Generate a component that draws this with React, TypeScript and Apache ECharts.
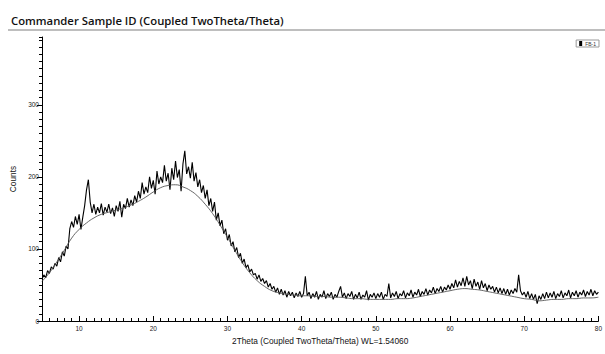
import React, { useEffect, useRef } from "react";
import * as echarts from "echarts";

const titleText = "Commander Sample ID (Coupled TwoTheta/Theta)";
const xAxisName = "2Theta (Coupled TwoTheta/Theta) WL=1.54060";
const yAxisName = "Counts";
const legendName = "FB-1";

const angleStart = 5;
const angleStep = 0.25;
// measured counts, 5.00° .. 80.00° every 0.25°
const counts = [
  58, 64, 60, 70, 66, 75, 72, 80, 76, 88, 82, 96, 90, 104, 100, 128, 138, 130, 145, 134,
  148, 127, 144, 160, 182, 196, 165, 150, 162, 148, 158, 150, 163, 147, 158, 151, 162, 149, 157, 145,
  160, 152, 166, 144, 162, 156, 170, 158, 168, 160, 174, 165, 180, 170, 192, 176, 186, 178, 200, 184,
  195, 176, 208, 190, 200, 192, 216, 194, 205, 182, 212, 196, 222, 199, 210, 180, 218, 236, 204, 214,
  198, 220, 194, 206, 186, 196, 178, 188, 170, 182, 160, 170, 152, 165, 140, 150, 132, 140, 121, 128,
  112, 120, 104, 110, 96, 102, 88, 94, 80, 86, 74, 78, 68, 72, 64, 66, 58, 64, 55, 59,
  52, 56, 47, 52, 44, 48, 40, 46, 37, 44, 36, 42, 33, 41, 35, 40, 32, 39, 34, 41,
  33, 38, 62, 35, 40, 31, 38, 33, 41, 30, 37, 33, 42, 31, 38, 34, 40, 30, 37, 33,
  41, 48, 33, 39, 31, 38, 34, 41, 30, 37, 32, 40, 30, 36, 33, 42, 29, 37, 33, 39,
  31, 38, 33, 40, 30, 37, 34, 52, 32, 39, 34, 41, 31, 38, 35, 42, 32, 39, 35, 43,
  33, 40, 36, 44, 34, 41, 37, 45, 36, 43, 39, 47, 38, 45, 41, 48, 40, 47, 43, 50,
  44, 52, 46, 57, 47, 55, 49, 60, 48, 62, 50, 56, 45, 58, 48, 54, 44, 56, 46, 52,
  42, 50, 44, 48, 40, 47, 39, 46, 38, 45, 37, 44, 36, 43, 38, 45, 40, 64, 42, 36,
  40, 33, 41, 31, 38, 30, 37, 24, 35, 30, 38, 31, 40, 32, 39, 33, 41, 31, 38, 34,
  42, 32, 39, 35, 43, 32, 40, 35, 42, 33, 40, 36, 43, 34, 41, 36, 44, 35, 42, 37,
  40,
];

const fitStart = 5;
const fitStep = 1;
// fitted background curve, 5° .. 80° every 1°
const fitCounts = [
  55, 67, 82, 98, 115, 127, 136, 143, 148, 151,
  154, 157, 161, 166, 172, 179, 185, 188, 189, 186,
  181, 173, 162, 149, 133, 116, 98, 81, 67, 56,
  48, 42, 39, 37, 36, 35, 35, 34, 34, 33,
  33, 32, 31, 31, 30, 30, 30, 30, 31, 31,
  32, 34, 36, 38, 40, 42, 44, 45, 44, 43,
  41, 39, 37, 35, 33, 31, 30, 28, 29, 30,
  30, 31, 31, 32, 32, 33,
];

const xLabelValues = [10, 20, 30, 40, 50, 60, 70, 80];
const yLabelValues = [0, 100, 200, 300];

export default function App() {
  const ref = useRef<HTMLDivElement>(null);
  useEffect(() => {
    if (!ref.current) return;
    const chart = echarts.init(ref.current, undefined, { renderer: "svg" });
    const measured = counts.map((c, i) => [angleStart + i * angleStep, c]);
    const fit = fitCounts.map((c, i) => [fitStart + i * fitStep, c]);
    const font = "'Liberation Sans', Arial, sans-serif";
    chart.setOption({
      animation: false,
      textStyle: { fontFamily: font },
      title: {
        text: titleText,
        left: 6,
        top: 10,
        textStyle: { fontFamily: "'Open Sans', sans-serif", fontSize: 11.3, fontWeight: 600, color: "#111" },
      },
      graphic: [
        { type: "line", shape: { x1: 8, y1: 30, x2: 605, y2: 30 }, style: { stroke: "#a8a8a8", lineWidth: 1.5 } },
      ],
      legend: {
        data: [{ name: legendName, icon: "rect" }],
        right: 6,
        top: 40,
        itemWidth: 3,
        itemHeight: 5,
        itemGap: 2,
        padding: [1, 3],
        borderColor: "#999",
        borderWidth: 1,
        textStyle: { fontSize: 5, color: "#333", fontFamily: font, padding: [0, 0, 0, -2] },
      },
      grid: { left: 42, right: 2, top: 37, bottom: 33 },
      xAxis: [
        {
          type: "value",
          min: 5,
          max: 80,
          interval: 1,
          position: "bottom",
          axisLine: { lineStyle: { color: "#000", width: 1 } },
          axisTick: { inside: true, length: 3, lineStyle: { color: "#000" } },
          axisLabel: { show: false },
          splitLine: { show: false },
        },
        {
          type: "value",
          min: 5,
          max: 80,
          position: "bottom",
          axisLine: { show: false },
          axisTick: { inside: true, length: 5, customValues: xLabelValues, lineStyle: { color: "#000" } },
          axisLabel: { customValues: xLabelValues, fontSize: 6.5, color: "#222", margin: 4 },
          splitLine: { show: false },
          name: xAxisName,
          nameLocation: "middle",
          nameGap: 16,
          nameTextStyle: { fontSize: 8.3, color: "#111", fontFamily: font },
        },
      ],
      yAxis: [
        {
          type: "value",
          min: 0,
          max: 394,
          interval: 10,
          position: "left",
          axisLine: { show: true, lineStyle: { color: "#000", width: 1 } },
          axisTick: { show: true, inside: false, length: 3, lineStyle: { color: "#000" } },
          axisLabel: { show: false },
          splitLine: { show: false },
        },
        {
          type: "value",
          min: 0,
          max: 394,
          position: "left",
          axisLine: { show: false },
          axisTick: { show: true, inside: false, length: 5, customValues: yLabelValues, lineStyle: { color: "#000" } },
          axisLabel: { customValues: yLabelValues, fontSize: 6.5, color: "#222", margin: 3 },
          splitLine: { show: false },
          name: yAxisName,
          nameLocation: "middle",
          nameGap: 24,
          nameTextStyle: { fontSize: 8.3, color: "#111", fontFamily: font },
        },
      ],
      series: [
        {
          name: legendName,
          type: "line",
          xAxisIndex: 0,
          yAxisIndex: 0,
          data: measured,
          showSymbol: false,
          symbol: "none",
          lineStyle: { color: "#000", width: 1.1 },
          itemStyle: { color: "#000" },
        },
        {
          name: "fit",
          type: "line",
          xAxisIndex: 0,
          yAxisIndex: 0,
          data: fit,
          smooth: true,
          showSymbol: false,
          symbol: "none",
          lineStyle: { color: "#555", width: 0.9 },
          z: 3,
        },
      ],
    });
    return () => chart.dispose();
  }, []);
  return (
    <div
      ref={ref}
      style={{ position: "absolute", left: 0, top: 0, width: 605, height: 354, background: "#fff" }}
    />
  );
}
